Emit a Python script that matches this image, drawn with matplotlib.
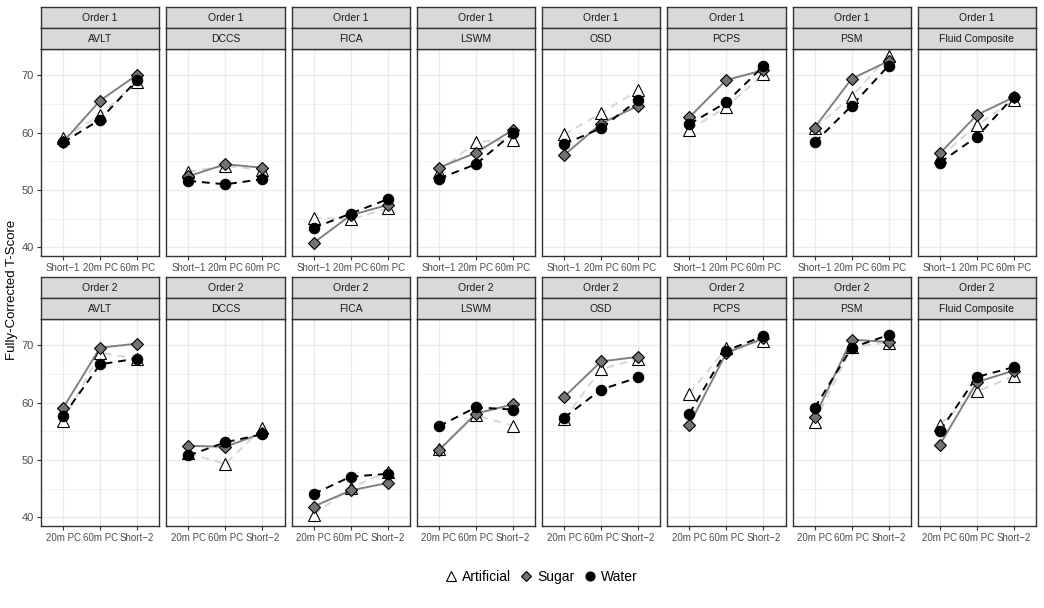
import numpy as np
import matplotlib
matplotlib.use("Agg")
import matplotlib.pyplot as plt
from matplotlib.lines import Line2D

plt.rcParams['font.family'] = ['Liberation Sans', 'DejaVu Sans']

tests = ["AVLT", "DCCS", "FICA", "LSWM", "OSD", "PCPS", "PSM", "Fluid Composite"]
orders = ["Order 1", "Order 2"]
times_order1 = ["Short\u22121", "20m PC", "60m PC"]
times_order2 = ["20m PC", "60m PC", "Short\u22122"]

# values per test, in the x order of each row
artificial_o1 = [[59.0, 63.1, 68.9], [53.2, 54.2, 53.5], [45.2, 44.9, 46.8], [53.2, 58.4, 58.8],
                 [59.7, 63.4, 67.4], [60.5, 64.5, 70.2], [60.8, 66.3, 73.4], [55.8, 61.3, 65.7]]
sugar_o1 = [[58.4, 65.6, 70.1], [52.4, 54.5, 53.9], [40.8, 45.6, 47.4], [53.9, 56.5, 60.5],
            [56.1, 61.6, 64.7], [62.7, 69.2, 70.9], [60.9, 69.4, 72.5], [56.4, 63.1, 66.2]]
water_o1 = [[58.3, 62.3, 69.2], [51.6, 51.0, 51.9], [43.4, 45.9, 48.4], [52.0, 54.5, 59.9],
            [58.0, 60.8, 65.7], [61.5, 65.3, 71.6], [58.3, 64.7, 71.7], [54.8, 59.3, 66.3]]

artificial_o2 = [[56.8, 68.7, 67.7], [51.2, 49.3, 55.6], [40.5, 45.1, 48.0], [52.0, 57.8, 56.0],
                 [57.1, 65.9, 67.6], [61.6, 69.5, 70.8], [56.6, 69.7, 70.5], [56.2, 62.0, 64.6]]
sugar_o2 = [[59.1, 69.6, 70.3], [52.5, 52.3, 54.7], [41.9, 44.7, 46.0], [51.7, 58.1, 59.7],
            [61.0, 67.2, 68.0], [56.2, 68.7, 71.2], [57.5, 71.0, 70.6], [52.7, 63.6, 65.6]]
water_o2 = [[57.7, 66.7, 67.7], [50.8, 53.1, 54.5], [44.1, 47.1, 47.6], [55.9, 59.2, 58.8],
            [57.4, 62.3, 64.4], [58.1, 69.1, 71.6], [59.1, 69.6, 71.8], [55.1, 64.5, 66.2]]

rows = [
    (times_order1, artificial_o1, sugar_o1, water_o1),
    (times_order2, artificial_o2, sugar_o2, water_o2),
]

W, H = 1044, 608
fig = plt.figure(figsize=(W / 100, H / 100), dpi=100)


def fx(px):
    return px / W


def fy(py):
    return 1 - py / H


border = "#333333"
strip_fill = "#D9D9D9"
grid_col = "#EBEBEB"

left, right, gap = 41, 1036, 7
pw = (right - left - gap * 7) / 8
row_px = [(7, 28, 49, 256), (277, 298, 319, 526)]

series_style = {
    "Artificial": dict(color="#D6D6D6", ls=(0, (4, 3)), marker="^", mfc="white", mec="black", ms=8.5),
    "Sugar": dict(color="#808080", ls="-", marker="D", mfc="#737373", mec="black", ms=6.5),
    "Water": dict(color="black", ls=(0, (4, 3)), marker="o", mfc="black", mec="black", ms=7.5),
}

for r, (times, art, sug, wat) in enumerate(rows):
    s1, s2, ptop, pbot = row_px[r]
    for i, test in enumerate(tests):
        x0 = left + i * (pw + gap)
        ax = fig.add_axes([fx(x0), fy(pbot), pw / W, (pbot - ptop) / H])
        xs = np.arange(len(times))
        for name, vals in (("Artificial", art), ("Sugar", sug), ("Water", wat)):
            st = series_style[name]
            ax.plot(xs, vals[i], color=st["color"], ls=st["ls"], lw=1.4, zorder=2)
        for name, vals in (("Artificial", art), ("Sugar", sug), ("Water", wat)):
            st = series_style[name]
            ax.plot(xs, vals[i], ls="none", marker=st["marker"], mfc=st["mfc"],
                    mec=st["mec"], ms=st["ms"], mew=0.8, zorder=3)
        ax.set_xlim(-0.6, 2.6)
        ax.set_ylim(38.5, 74.6)
        ax.set_yticks([40, 50, 60, 70])
        ax.set_yticks([45, 55, 65], minor=True)
        ax.set_xticks(xs)
        ax.set_xticklabels(times)
        ax.grid(True, which="major", color=grid_col, lw=1.0, zorder=0)
        ax.grid(True, which="minor", axis="y", color=grid_col, lw=0.5, zorder=0)
        ax.set_axisbelow(True)
        ax.tick_params(axis="x", length=3, width=0.8, color=border, labelsize=7,
                       labelcolor="#4D4D4D", pad=2)
        ax.tick_params(axis="y", which="major", length=3, width=0.8, color=border,
                       labelsize=8, labelcolor="#4D4D4D", pad=2)
        ax.tick_params(axis="y", which="minor", length=0)
        if i > 0:
            ax.tick_params(axis="y", left=False, labelleft=False)
        for sp in ax.spines.values():
            sp.set_color(border)
            sp.set_linewidth(1.0)

        # strips
        for (ta, tb, label) in ((s1, s2, orders[r]), (s2, ptop, test)):
            sax = fig.add_axes([fx(x0), fy(tb), pw / W, (tb - ta) / H])
            sax.set_facecolor(strip_fill)
            sax.set_xticks([])
            sax.set_yticks([])
            for sp in sax.spines.values():
                sp.set_color(border)
                sp.set_linewidth(1.0)
            sax.text(0.5, 0.48, label, ha="center", va="center", fontsize=7.5,
                     color="#1A1A1A", transform=sax.transAxes)

fig.text(fx(12), fy(290), "Fully-Corrected T-Score", rotation=90, ha="center",
         va="center", fontsize=9.5, color="black")

handles = [
    Line2D([], [], ls="none", marker="^", mfc="white", mec="black", ms=7.5, mew=0.8),
    Line2D([], [], ls="none", marker="D", mfc="#737373", mec="black", ms=5.5, mew=0.8),
    Line2D([], [], ls="none", marker="o", mfc="black", mec="black", ms=6.5, mew=0.8),
]
fig.legend(handles, ["Artificial", "Sugar", "Water"], loc="center",
           bbox_to_anchor=(fx(540), fy(577)), ncol=3, frameon=False, fontsize=10,
           handletextpad=0.2, columnspacing=0.5, handlelength=1.2)

fig.savefig("out.png", dpi=100)
